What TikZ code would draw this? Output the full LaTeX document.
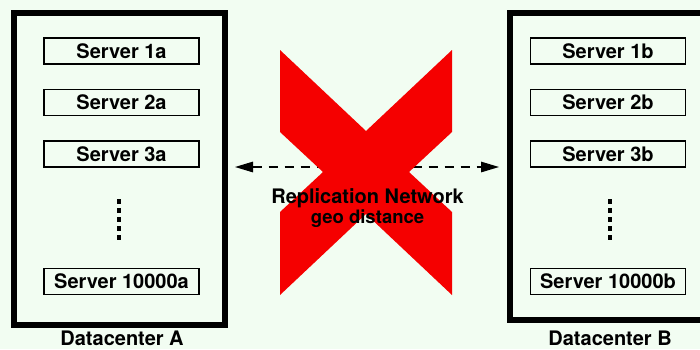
\documentclass[tikz,border=0pt]{standalone}
\usepackage{fontspec}
\setmainfont{TeX Gyre Heros}
\usepackage{tikz}
\usetikzlibrary{positioning,arrows.meta}
\definecolor{bgcol}{RGB}{242,253,242}
\definecolor{xred}{RGB}{245,0,0}
\begin{document}
\begin{tikzpicture}[x=1pt, y=-1pt, node distance=51.5pt,
server/.style={rectangle, draw, line width=1.3pt, minimum width=155pt, minimum height=26pt, inner sep=0pt, font=\fontsize{20}{24}\selectfont\bfseries},
dcbox/.style={rectangle, draw, line width=6pt, inner sep=0pt},
dclabel/.style={anchor=base, inner sep=0pt, font=\fontsize{20}{24}\selectfont\bfseries},
netlabel/.style={anchor=base, inner sep=0pt, font=\fontsize{20}{24}\selectfont\bfseries},
geolabel/.style={anchor=base, inner sep=0pt, font=\fontsize{18.5}{22}\selectfont\bfseries},
repl/.style={dash pattern=on 9pt off 7pt, line width=1.3pt, {Triangle[length=18pt,width=10.5pt]}-{Triangle[length=18pt,width=10.5pt]}},
vdots/.style={line width=4.5pt, dash pattern=on 4.5pt off 4.5pt}]
\useasboundingbox (0,0) rectangle (700,349);
\clip (0,0) rectangle (700,349);
\fill[bgcol] (0,0) rectangle (700,349);

\node[dcbox, minimum width=211pt, minimum height=312pt] (dcA) at (119.5,169) {};
\node[dcbox, minimum width=211pt, minimum height=307pt] (dcB) at (615.5,166.5) {};

\node[server] (a1) at (121.5,51) {Server 1a};
\node[server] (a2) [below of=a1] {Server 2a};
\node[server] (a3) [below of=a2] {Server 3a};
\node[server, node distance=127.5pt] (a4) [below of=a3] {Server 10000a};
\node[server] (b1) at (608,51) {Server 1b};
\node[server] (b2) [below of=b1] {Server 2b};
\node[server] (b3) [below of=b2] {Server 3b};
\node[server, node distance=127.5pt] (b4) [below of=b3] {Server 10000b};

\draw[vdots] (119,199) -- (119,240);
\draw[vdots] (610,199) -- (610,240);

\node[dclabel] (labA) at (122,345) {Datacenter A};
\node[dclabel] (labB) at (610,345) {Datacenter B};

\coordinate (netL) at (235,167);
\coordinate (netR) at (499,167);
\draw[repl] (netL) -- (netR);

\fill[xred] (280,50) -- (366,131) -- (452,50) -- (452,132) -- (409,172) -- (452,212)
  -- (452,295) -- (366,214) -- (280,295) -- (280,212) -- (323,172) -- (280,132) -- cycle;

\node[netlabel] (net) at (367.5,203) {Replication Network};
\node[geolabel] (geo) at (367.5,223) {geo distance};
\end{tikzpicture}
\end{document}
